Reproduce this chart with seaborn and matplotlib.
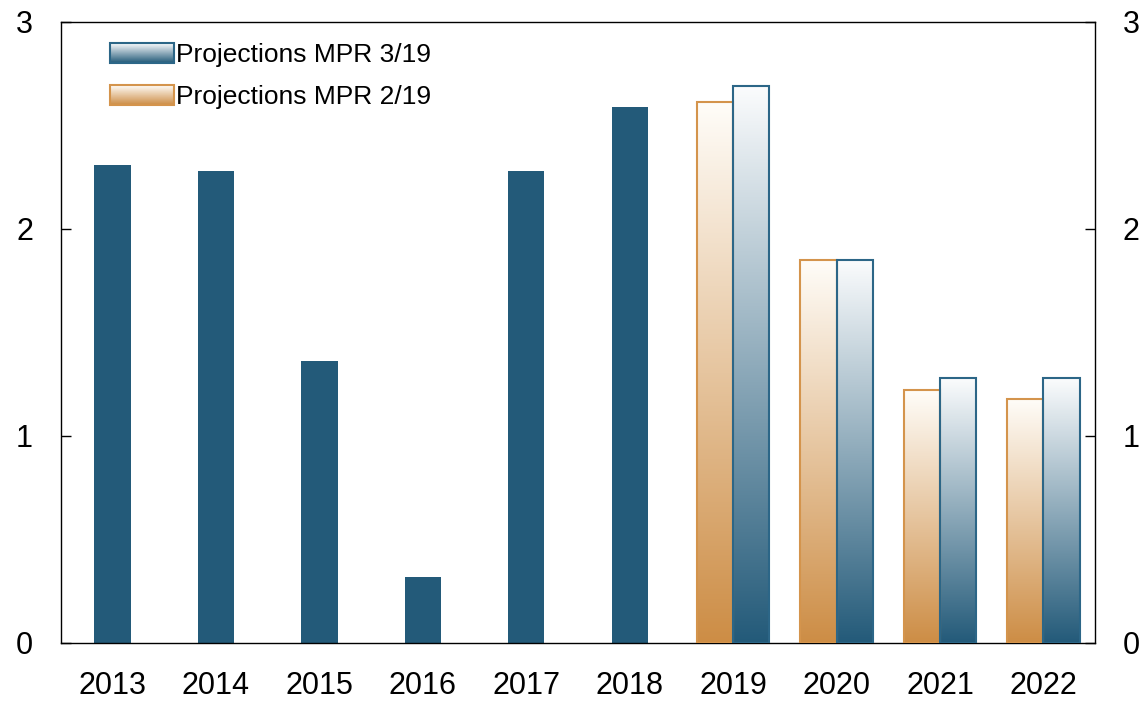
import numpy as np
import pandas as pd
import matplotlib
matplotlib.use('Agg')
import matplotlib.pyplot as plt
import seaborn as sns
from matplotlib.colors import LinearSegmentedColormap
from matplotlib.patches import Rectangle
from matplotlib.image import BboxImage
from matplotlib.transforms import Bbox, TransformedBbox
from matplotlib.legend_handler import HandlerBase

# data
years = ['2013', '2014', '2015', '2016', '2017', '2018', '2019', '2020', '2021', '2022']
hist_years = ['2013', '2014', '2015', '2016', '2017', '2018']
hist_values = [2.31, 2.28, 1.36, 0.32, 2.28, 2.59]
proj_years = ['2019', '2020', '2021', '2022']
mpr_2_19 = [2.61, 1.85, 1.22, 1.18]
mpr_3_19 = [2.69, 1.85, 1.28, 1.28]

blue = '#235a79'
orange = '#cd8d45'
blue_cmap = LinearSegmentedColormap.from_list('b', [blue, '#fbfcfd'])
orange_cmap = LinearSegmentedColormap.from_list('o', [orange, '#fffdf9'])

hist = pd.DataFrame({'year': hist_years, 'value': hist_values})
proj = pd.DataFrame({
    'year': proj_years * 2,
    'value': mpr_2_19 + mpr_3_19,
    'series': ['Projections MPR 2/19'] * 4 + ['Projections MPR 3/19'] * 4,
})

sns.set_style('white')
plt.rcParams['font.family'] = ['Liberation Sans', 'DejaVu Sans']
plt.rcParams['text.color'] = 'black'

fig, ax = plt.subplots(figsize=(11.48, 7.01), dpi=100)
fig.subplots_adjust(left=0.053, right=0.954, top=0.969, bottom=0.083)

sns.barplot(data=hist, x='year', y='value', order=years, color=blue,
            width=0.35, saturation=1, ax=ax, linewidth=0)
n_hist = len(ax.patches)
sns.barplot(data=proj, x='year', y='value', hue='series', order=years,
            hue_order=['Projections MPR 2/19', 'Projections MPR 3/19'],
            palette=[orange, blue], width=0.7, saturation=1, dodge=True,
            legend=False, ax=ax)

grad = np.linspace(0, 1, 256).reshape(-1, 1)
for p in ax.patches[n_hist:]:
    x0, y0 = p.get_x(), p.get_y()
    w, h = p.get_width(), p.get_height()
    if h <= 0:
        continue
    fc = matplotlib.colors.to_hex(p.get_facecolor())
    is_blue = fc == blue
    cmap = blue_cmap if is_blue else orange_cmap
    ax.imshow(grad, extent=[x0, x0 + w, y0, y0 + h], origin='lower',
              cmap=cmap, aspect='auto', zorder=2)
    p.set_facecolor('none')
    p.set_edgecolor('#2c6687' if is_blue else '#d4944c')
    p.set_linewidth(1.5)
    p.set_zorder(3)

ax.set_xlim(-0.5, 9.5)
ax.set_ylim(0, 3)
ax.set_yticks([0, 1, 2, 3])
ax.set_xlabel('')
ax.set_ylabel('')
ax.tick_params(axis='both', direction='in', labelsize=22, length=7,
               width=1, colors='black')
ax.tick_params(axis='y', right=True, labelright=True, left=True, pad=20)
ax.tick_params(axis='x', bottom=True, pad=20)
for s in ax.spines.values():
    s.set_visible(True)
    s.set_color('black')
    s.set_linewidth(1)


class GradientHandler(HandlerBase):
    def __init__(self, cmap, edge):
        super().__init__()
        self.cmap = cmap
        self.edge = edge

    def create_artists(self, legend, orig_handle, xdescent, ydescent,
                       width, height, fontsize, trans):
        bbox = TransformedBbox(Bbox.from_bounds(-xdescent, -ydescent, width, height), trans)
        img = BboxImage(bbox, cmap=self.cmap, origin='lower', interpolation='bilinear')
        img.set_data(np.linspace(0.15, 1, 64).reshape(-1, 1))
        rect = Rectangle((-xdescent, -ydescent), width, height, facecolor='none',
                         edgecolor=self.edge, linewidth=1.5, transform=trans)
        return [img, rect]


h3 = Rectangle((0, 0), 1, 1)
h2 = Rectangle((0, 0), 1, 1)
leg = ax.legend([h3, h2], ['Projections MPR 3/19', 'Projections MPR 2/19'],
                handler_map={h3: GradientHandler(blue_cmap, '#2c6687'),
                             h2: GradientHandler(orange_cmap, '#d4944c')},
                loc='upper left', bbox_to_anchor=(0.03, 0.995), frameon=False,
                fontsize=19, handlelength=2.4, handleheight=0.75,
                handletextpad=0.1, labelspacing=0.68, borderaxespad=0.3)
for t in leg.get_texts():
    t.set_color('black')

fig.savefig('out.png', dpi=100)
